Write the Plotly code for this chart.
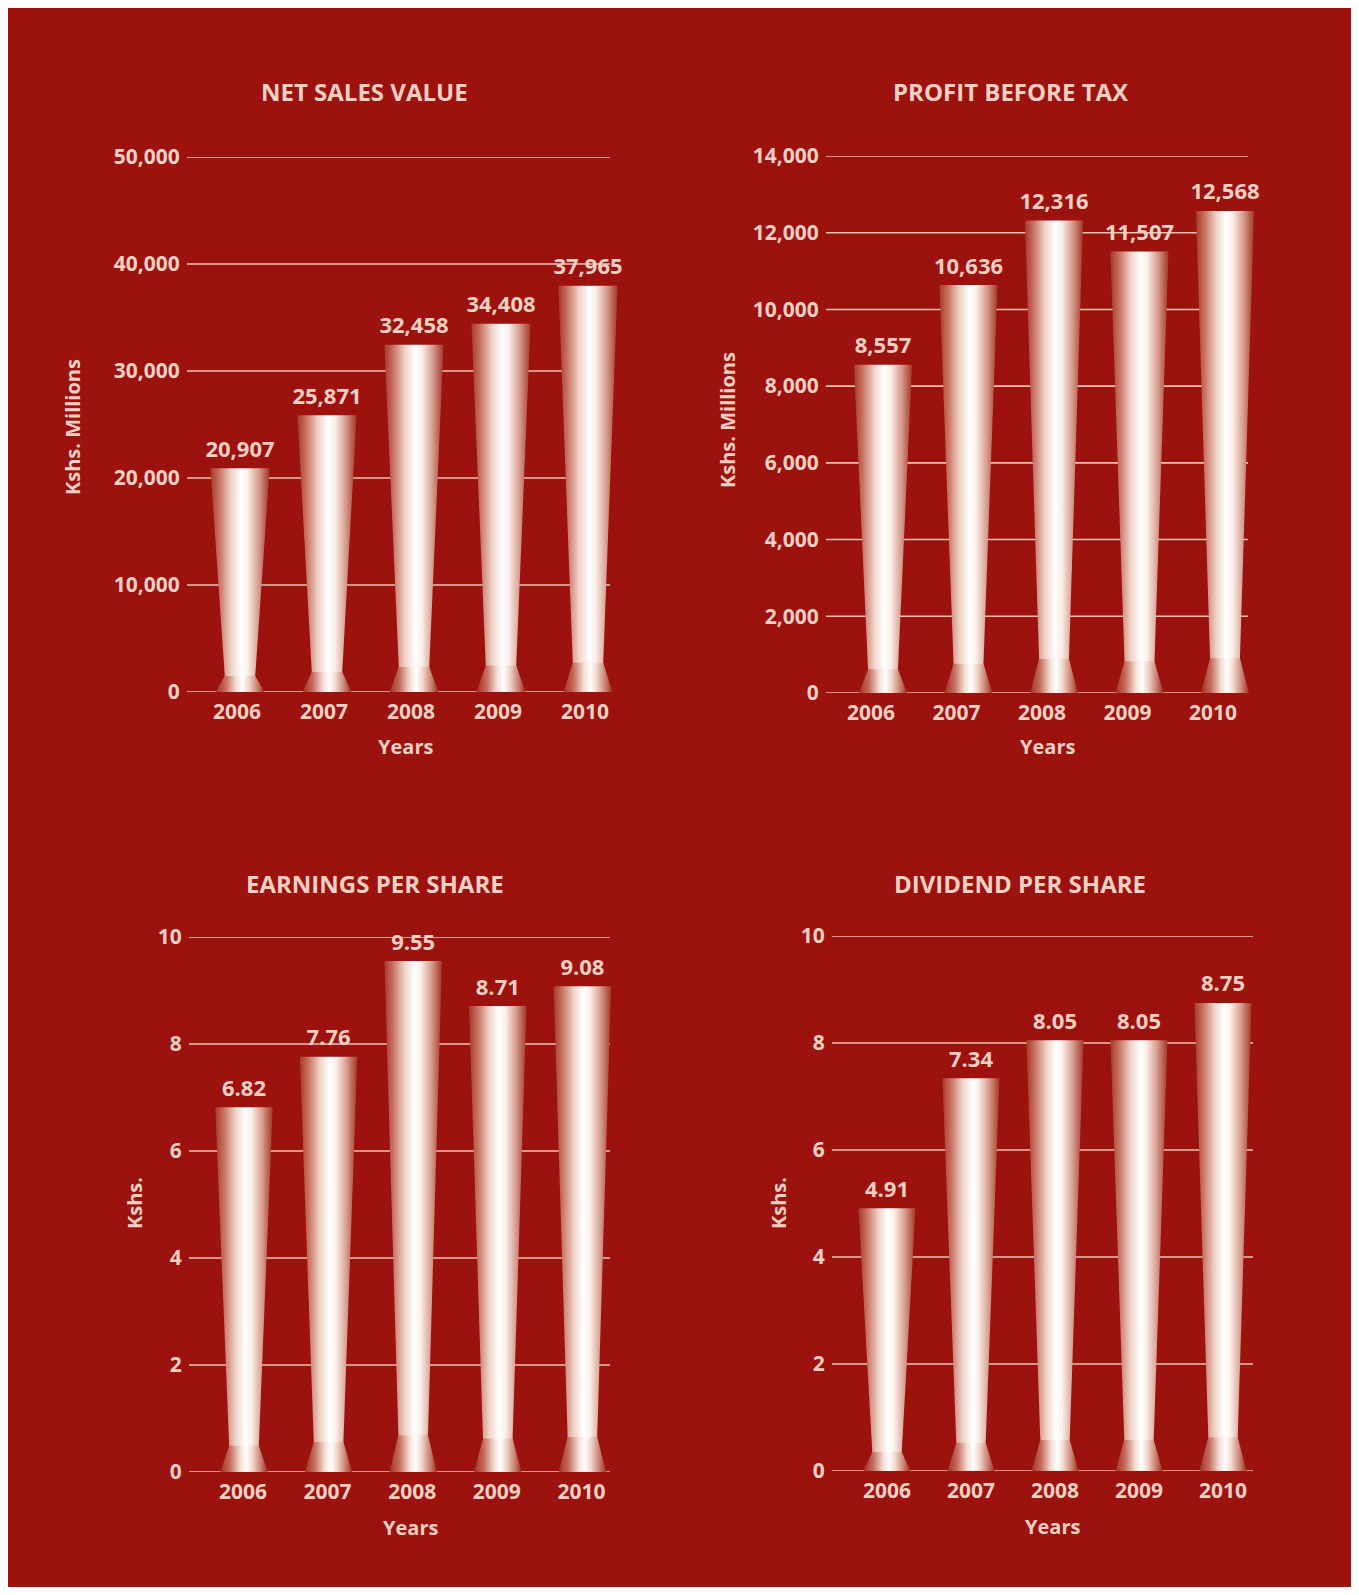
import plotly.graph_objects as go

# ---------------- data ----------------
years = ["2006", "2007", "2008", "2009", "2010"]
net_sales = [20907, 25871, 32458, 34408, 37965]
profit_before_tax = [8557, 10636, 12316, 11507, 12568]
earnings_per_share = [6.82, 7.76, 9.55, 8.71, 9.08]
dividend_per_share = [4.91, 7.34, 8.05, 8.05, 8.75]

panel_titles = ["NET SALES VALUE", "PROFIT BEFORE TAX", "EARNINGS PER SHARE", "DIVIDEND PER SHARE"]
y_titles = ["Kshs. Millions", "Kshs. Millions", "Kshs.", "Kshs."]
x_title = "Years"
y_ticks_sales = [0, 10000, 20000, 30000, 40000, 50000]
y_ticks_profit = [0, 2000, 4000, 6000, 8000, 10000, 12000, 14000]
y_ticks_share = [0, 2, 4, 6, 8, 10]
label_formats = ["%{y:,}", "%{y:,}", "%{y:.2f}", "%{y:.2f}"]

series = [net_sales, profit_before_tax, earnings_per_share, dividend_per_share]
y_ticks = [y_ticks_sales, y_ticks_profit, y_ticks_share, y_ticks_share]

# ---------------- style / layout (pixels, page coordinates) ----------------
PAGE_W, PAGE_H = 1359, 1595
OX, OY = 8, 8            # where the figure lands on the page (body margin)
W, H = PAGE_W - 2 * OX, PAGE_H - 2 * OY
BG = "#9B120E"
TXT = "#F3D0C4"
GRID = "#EBC2B4"
FONT = "Open Sans"
WT = 700

panels = [
    dict(left=187, right=610, c0=240, dx=87.0, base=692, top=157, shift=-3,
         title=(364, 92), xt=(405, 746), yt=(73, 427)),
    dict(left=826, right=1248, c0=883, dx=85.5, base=693, top=156, shift=-12,
         title=(1011, 92), xt=(1047, 746), yt=(728, 420)),
    dict(left=189, right=610, c0=244, dx=84.6, base=1472, top=937, shift=-1,
         title=(375, 883), xt=(410, 1527), yt=(134, 1203)),
    dict(left=832, right=1253, c0=887, dx=84.0, base=1471, top=936, shift=0,
         title=(1020, 883), xt=(1052, 1526), yt=(778, 1203)),
]


def fx(px):
    return (px - OX) / W


def fy(py):
    return 1 - (py - OY) / H


TOP_W, NARROW_W, BASE_W, FLARE = 0.68, 0.35, 0.56, 0.072

grad = [[0.0, "#A63A2B"], [0.15, "#C87262"], [0.35, "#EFD3C9"], [0.52, "#FFFFFF"],
        [0.63, "#FBEFEA"], [0.82, "#D69A8A"], [1.0, "#A33728"]]
grad_base = [[0.0, "#A23323"], [0.2, "#C46A5A"], [0.42, "#F3DED6"], [0.55, "#FFFFFF"],
             [0.68, "#F1D6CC"], [0.85, "#CC8474"], [1.0, "#A03222"]]

tick_font = dict(size=21, color=TXT, family=FONT, weight=WT)

fig = go.Figure()
shapes = []
annotations = []
layout_axes = {}

for k, (p, vals) in enumerate(zip(panels, series)):
    n = k + 1
    xa = "x" if n == 1 else f"x{n}"
    ya = "y" if n == 1 else f"y{n}"
    dom_right = max(p["right"], p["c0"] + 4.45 * p["dx"]) + 6
    xr0 = (p["left"] - p["c0"]) / p["dx"]
    xr1 = (dom_right - p["c0"]) / p["dx"]
    ymax = y_ticks[k][-1]

    layout_axes["xaxis" if n == 1 else f"xaxis{n}"] = dict(
        domain=[fx(p["left"]), fx(dom_right)], anchor=ya, range=[xr0, xr1],
        tickvals=list(range(len(years))), ticktext=years, showgrid=False, zeroline=False,
        showline=False, ticks="outside", ticklen=1, tickcolor="rgba(0,0,0,0)",
        ticklabelshift=p["shift"], tickfont=tick_font, fixedrange=True, automargin=False)
    layout_axes["yaxis" if n == 1 else f"yaxis{n}"] = dict(
        domain=[fy(p["base"]), fy(p["top"])], anchor=xa, range=[0, ymax],
        tickvals=y_ticks[k], tickformat=",", showgrid=False, zeroline=False, showline=False,
        ticks="outside", ticklen=2, tickcolor="rgba(0,0,0,0)",
        tickfont=tick_font, fixedrange=True, automargin=False)

    frac = (p["right"] - p["left"]) / (dom_right - p["left"])
    for t in y_ticks[k]:
        shapes.append(dict(type="line", xref=f"{xa} domain", yref=ya, x0=0, x1=frac, y0=t, y1=t,
                           line=dict(color=GRID, width=1.6), layer="below"))

    for i, v in enumerate(vals):
        h = FLARE * v
        eps = 0.004 * ymax
        fig.add_trace(go.Scatter(
            x=[i - TOP_W / 2, i + TOP_W / 2, i + NARROW_W / 2, i + NARROW_W / 2,
               i - NARROW_W / 2, i - NARROW_W / 2, i - TOP_W / 2],
            y=[v, v, h, h - eps, h - eps, h, v],
            mode="lines", fill="toself", line=dict(width=0, color="rgba(0,0,0,0)"),
            fillgradient=dict(type="horizontal", colorscale=grad),
            xaxis=xa, yaxis=ya, hoverinfo="skip", showlegend=False))
        fig.add_trace(go.Scatter(
            x=[i - NARROW_W / 2, i + NARROW_W / 2, i + BASE_W / 2, i - BASE_W / 2, i - NARROW_W / 2],
            y=[h, h, 0, 0, h],
            mode="lines", fill="toself", line=dict(width=0, color="rgba(0,0,0,0)"),
            fillgradient=dict(type="horizontal", colorscale=grad_base),
            xaxis=xa, yaxis=ya, hoverinfo="skip", showlegend=False))

    fig.add_trace(go.Scatter(
        x=list(range(len(years))), y=vals, mode="text+markers", texttemplate=label_formats[k],
        textposition="top center", cliponaxis=False,
        marker=dict(size=8, color="rgba(0,0,0,0)"),
        textfont=dict(size=22, color=TXT, family=FONT, weight=WT),
        xaxis=xa, yaxis=ya, hoverinfo="skip", showlegend=False))

    tx, ty = p["title"]
    annotations.append(dict(text=panel_titles[k], xref="paper", yref="paper", x=fx(tx), y=fy(ty),
                            xanchor="center", yanchor="middle", showarrow=False,
                            font=dict(size=24, color=TXT, family=FONT, weight=WT)))
    tx, ty = p["xt"]
    annotations.append(dict(text=x_title, xref="paper", yref="paper", x=fx(tx), y=fy(ty),
                            xanchor="center", yanchor="middle", showarrow=False,
                            font=dict(size=20, color=TXT, family=FONT, weight=WT)))
    tx, ty = p["yt"]
    annotations.append(dict(text=y_titles[k], xref="paper", yref="paper", x=fx(tx), y=fy(ty),
                            xanchor="center", yanchor="middle", showarrow=False, textangle=-90,
                            font=dict(size=20, color=TXT, family=FONT, weight=WT)))

fig.update_layout(
    width=W, height=H, margin=dict(l=0, r=0, t=0, b=0, pad=0, autoexpand=False),
    paper_bgcolor=BG, plot_bgcolor="rgba(0,0,0,0)",
    font=dict(family=FONT, color=TXT, size=21, weight=WT),
    showlegend=False, shapes=shapes, annotations=annotations, **layout_axes)

fig.write_html("out.html")
